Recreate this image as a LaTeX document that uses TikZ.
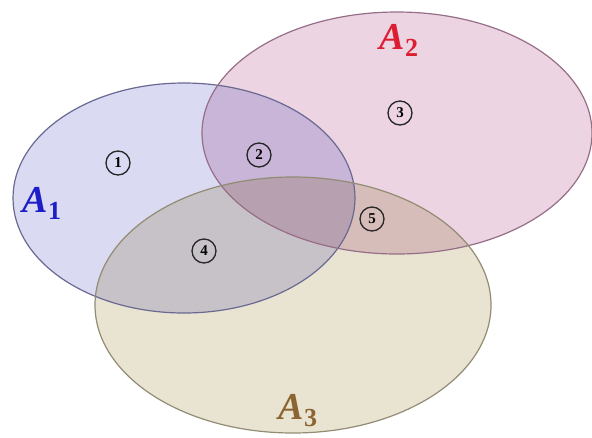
\documentclass[tikz,border=0pt]{standalone}
\usepackage{fontspec}
\setmainfont{Liberation Serif}
\usetikzlibrary{shapes.geometric}
\definecolor{fillA}{RGB}{218,218,242}
\definecolor{fillB}{RGB}{236,212,227}
\definecolor{fillC}{RGB}{233,228,210}
\definecolor{lineA}{RGB}{105,105,145}
\definecolor{lineB}{RGB}{150,110,135}
\definecolor{lineC}{RGB}{145,140,115}
\definecolor{labA}{RGB}{30,30,200}
\definecolor{labB}{RGB}{220,30,50}
\definecolor{labC}{RGB}{140,100,50}
\tikzset{
  setline/.style={line width=1.2pt},
  num/.style={circle,draw=black!85,line width=1.3pt,inner sep=0pt,minimum size=24pt,font=\fontsize{15}{15}\selectfont\bfseries},
  setlab/.style={font=\fontsize{38}{40}\selectfont\bfseries\itshape}
}
\begin{document}
\begin{tikzpicture}[x=1pt,y=-1pt]
\useasboundingbox (0,0) rectangle (592,437);
\begin{scope}[blend group=multiply]
\fill[fillA] (184,198) ellipse [x radius=171, y radius=115];
\fill[fillB] (397,133) ellipse [x radius=195, y radius=121];
\fill[fillC] (293,305) ellipse [x radius=198, y radius=128];
\end{scope}
\draw[setline,lineA] (184,198) ellipse [x radius=171, y radius=115];
\draw[setline,lineB] (397,133) ellipse [x radius=195, y radius=121];
\draw[setline,lineC] (293,305) ellipse [x radius=198, y radius=128];
\node[num] (n1) at (118,163) {1};
\node[num] (n2) at (259,155) {2};
\node[num] (n3) at (400,113) {3};
\node[num] (n4) at (204,251) {4};
\node[num] (n5) at (372,219) {5};
\node[setlab,labA] (a1) at (42,203) {A\textup{\fontsize{26}{26}\selectfont\raisebox{-7pt}{1}}};
\node[setlab,labB] (a2) at (399,40) {A\textup{\fontsize{26}{26}\selectfont\raisebox{-7pt}{2}}};
\node[setlab,labC] (a3) at (298,411) {A\textup{\fontsize{26}{26}\selectfont\raisebox{-7pt}{3}}};
\end{tikzpicture}
\end{document}
